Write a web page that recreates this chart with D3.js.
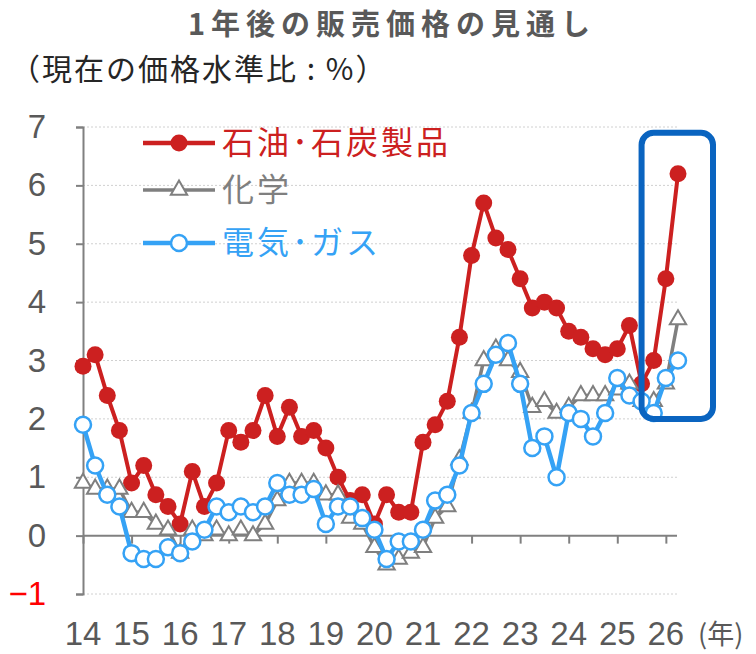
<!DOCTYPE html>
<html>
<head>
<meta charset="utf-8">
<script src="https://cdn.jsdelivr.net/npm/d3@7"></script>
<style>
  body { margin: 0; background: #fff; }
  svg { display: block; }
</style>
</head>
<body>
<div id="chart"></div>
<script>
// quarterly survey, 2014 Q1 .. 2026 Q2
var oilCoal = [2.9,3.1,2.4,1.8,0.9,1.2,0.7,0.5,0.2,1.1, 0.5,0.9,1.8,1.6,1.8,2.4,1.7,2.2,1.7,1.8,
               1.5,1.0,0.6,0.7,0.2,0.7,0.4,0.4,1.6,1.9, 2.3,3.4,4.8,5.7,5.1,4.9,4.4,3.9,4.0,3.9,
               3.5,3.4,3.2,3.1,3.2,3.6,2.6,3.0,4.4,6.2];
var chemical = [0.9,0.8,0.8,0.8,0.4,0.4,0.2,0.1,-0.3,0.1, 0.0,0.1,0.0,0.1,0.0,0.2,0.6,0.9,0.9,0.9,
                0.7,0.7,0.3,0.2,-0.2,-0.5,-0.4,-0.3,-0.2,0.3, 0.5,1.3,2.1,3.0,3.2,3.0,2.8,2.2,2.3,2.1,
                2.2,2.4,2.4,2.4,2.5,2.6,2.3,2.3,2.6,3.7];
var elecGas = [1.9,1.2,0.7,0.5,-0.3,-0.4,-0.4,-0.2,-0.3,-0.1, 0.1,0.5,0.4,0.5,0.4,0.5,0.9,0.7,0.7,0.8,
               0.2,0.5,0.5,0.3,0.1,-0.4,-0.1,-0.1,0.1,0.6, 0.7,1.2,2.1,2.6,3.1,3.3,2.6,1.5,1.7,1.0,
               2.1,2.0,1.7,2.1,2.7,2.4,2.3,2.1,2.7,3.0];
var yearLabels = ["14","15","16","17","18","19","20","21","22","23","24","25","26"];
var yTicks = [-1,0,1,2,3,4,5,6,7];
var seriesNames = ["石油･石炭製品", "化学", "電気･ガス"];
// highlighted period (quarter index) and value span of the box
var boxQuarters = [46, 49];
var boxValues = [2.0, 6.9];

var width = 756, height = 654;
var jp = "'Noto Sans CJK JP', 'Noto Sans', sans-serif";
var narrow = "'Liberation Sans Narrow', 'Liberation Sans', Arial, sans-serif";

var svg = d3.select("#chart").append("svg")
    .attr("width", width)
    .attr("height", height);

var x = d3.scaleLinear().domain([0, 49]).range([83, 678]);
var y = d3.scaleLinear().domain([-1, 7]).range([594, 127]);

// title + unit
svg.append("text")
    .attr("x", 392).attr("y", 35)
    .attr("text-anchor", "middle")
    .style("font-family", jp).style("font-size", "29px").style("font-weight", "bold")
    .style("letter-spacing", "6px")
    .attr("fill", "#595959")
    .text("1年後の販売価格の見通し");

svg.append("text")
    .attr("x", 10).attr("y", 80)
    .style("font-family", jp).style("font-size", "30px")
    .style("letter-spacing", "2px")
    .attr("fill", "#262626")
    .text("（現在の価格水準比 : %）");

// gridlines
svg.append("g").selectAll("line")
    .data(yTicks.filter(function(d){ return d != 0; }))
    .enter().append("line")
    .attr("x1", x(0)).attr("x2", 677)
    .attr("y1", function(d){ return y(d); })
    .attr("y2", function(d){ return y(d); })
    .attr("stroke", "#d0d0d0")
    .attr("stroke-width", 1)
    .attr("stroke-dasharray", "2,2");

// y axis
var yAxis = svg.append("g")
    .attr("transform", "translate(" + x(0) + ",0)")
    .call(d3.axisLeft(y).tickValues(yTicks).tickSize(7).tickFormat(function(d){ return d < 0 ? "\u2212" + (-d) : d; }));
yAxis.select(".domain").attr("stroke", "#808080").attr("stroke-width", 2);
yAxis.selectAll(".tick line").attr("stroke", "#808080").attr("stroke-width", 2);
yAxis.selectAll(".tick text")
    .attr("x", -37)
    .style("font-family", narrow).style("font-size", "33px")
    .attr("fill", function(d){ return d < 0 ? "#ff0000" : "#595959"; });

// x axis at zero
var xAxis = svg.append("g")
    .attr("transform", "translate(0," + y(0) + ")")
    .call(d3.axisBottom(x).tickValues(d3.range(0, 49, 4)).tickSize(8).tickFormat(""));
xAxis.select(".domain").attr("stroke", "#808080").attr("stroke-width", 2).attr("d", "M" + x(0) + ",0H677");
xAxis.selectAll(".tick line").attr("stroke", "#808080").attr("stroke-width", 2);

svg.append("g").selectAll("text")
    .data(yearLabels)
    .enter().append("text")
    .attr("x", function(d, i){ return x(i * 4); })
    .attr("y", 645)
    .attr("text-anchor", "middle")
    .style("font-family", narrow).style("font-size", "33px")
    .attr("fill", "#595959")
    .text(function(d){ return d; });

svg.append("text")
    .attr("x", 698).attr("y", 644)
    .style("font-family", jp).style("font-size", "27px")
    .attr("fill", "#595959")
    .text("(年)");

var line = d3.line()
    .x(function(d, i){ return x(i); })
    .y(function(d){ return y(d); });

var red = "#cc2020", gray = "#7f7f7f", blue = "#35a2f5";
var tri = d3.symbol().type(d3.symbolTriangle).size(115);

// red series
svg.append("path").datum(oilCoal)
    .attr("d", line).attr("fill", "none")
    .attr("stroke", red).attr("stroke-width", 4);
svg.append("g").selectAll("circle")
    .data(oilCoal).enter().append("circle")
    .attr("cx", function(d, i){ return x(i); })
    .attr("cy", function(d){ return y(d); })
    .attr("r", 8.5)
    .attr("fill", red);

// gray series
svg.append("path").datum(chemical)
    .attr("d", line).attr("fill", "none")
    .attr("stroke", gray).attr("stroke-width", 3.5);
svg.append("g").selectAll("path")
    .data(chemical).enter().append("path")
    .attr("d", tri)
    .attr("transform", function(d, i){ return "translate(" + x(i) + "," + y(d) + ")"; })
    .attr("fill", "#fff").attr("stroke", gray).attr("stroke-width", 2);

// blue series
svg.append("path").datum(elecGas)
    .attr("d", line).attr("fill", "none")
    .attr("stroke", blue).attr("stroke-width", 4.5);
svg.append("g").selectAll("circle")
    .data(elecGas).enter().append("circle")
    .attr("cx", function(d, i){ return x(i); })
    .attr("cy", function(d){ return y(d); })
    .attr("r", 8)
    .attr("fill", "#fff").attr("stroke", blue).attr("stroke-width", 2.5);

// legend
var legend = svg.append("g");
var legendRows = [
    { name: seriesNames[0], color: red, y: 143, mark: "dot" },
    { name: seriesNames[1], color: gray, y: 190, mark: "tri" },
    { name: seriesNames[2], color: blue, y: 243, mark: "ring" }
];
legendRows.forEach(function(r){
    legend.append("line")
        .attr("x1", 143).attr("x2", 215)
        .attr("y1", r.y).attr("y2", r.y)
        .attr("stroke", r.color).attr("stroke-width", r.mark == "tri" ? 3.5 : 4.5);
    if (r.mark == "dot") {
        legend.append("circle").attr("cx", 179).attr("cy", r.y).attr("r", 8.5).attr("fill", r.color);
    } else if (r.mark == "tri") {
        legend.append("path").attr("d", tri)
            .attr("transform", "translate(179," + r.y + ")")
            .attr("fill", "#fff").attr("stroke", r.color).attr("stroke-width", 2);
    } else {
        legend.append("circle").attr("cx", 179).attr("cy", r.y).attr("r", 8)
            .attr("fill", "#fff").attr("stroke", r.color).attr("stroke-width", 2.5);
    }
    legend.append("text")
        .attr("x", 222).attr("y", r.y + 11)
        .style("font-family", jp).style("font-size", "32px")
        .style("letter-spacing", "3px")
        .attr("fill", r.color)
        .text(r.name);
});

// highlight box
svg.append("rect")
    .attr("x", x(boxQuarters[0]))
    .attr("y", y(boxValues[1]))
    .attr("width", x(boxQuarters[1]) - x(boxQuarters[0]) + 35)
    .attr("height", y(boxValues[0]) - y(boxValues[1]))
    .attr("rx", 12).attr("ry", 12)
    .attr("fill", "none")
    .attr("stroke", "#0a64c0")
    .attr("stroke-width", 6);
</script>
</body>
</html>
